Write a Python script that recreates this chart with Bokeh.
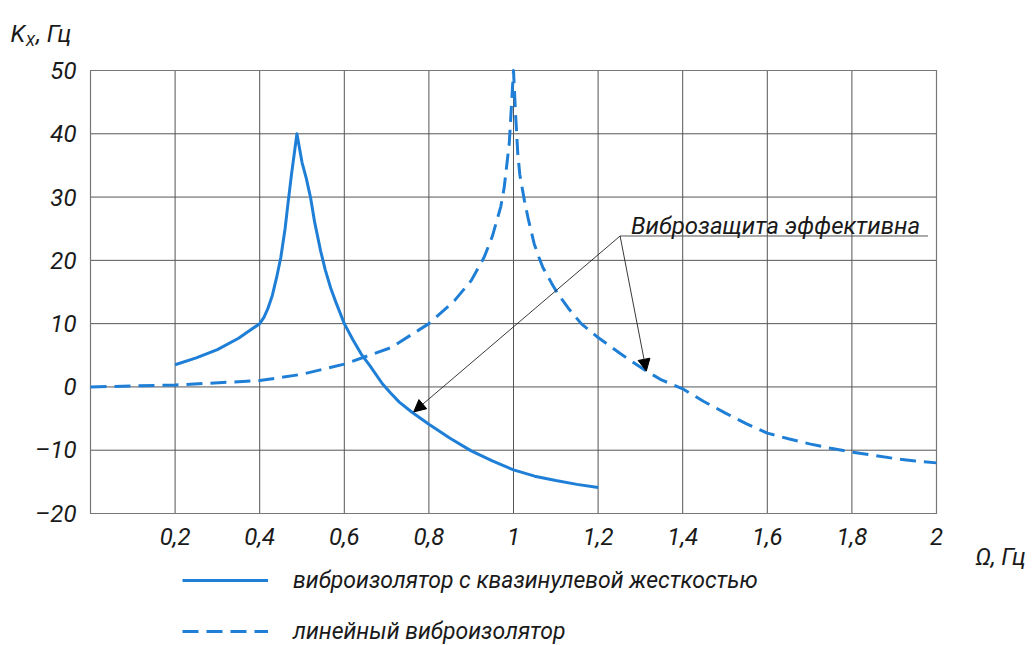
from bokeh.plotting import figure
from bokeh.models import Range1d, Label, Arrow, NormalHead, Legend, LegendItem, ColumnDataSource
from bokeh.embed import file_html
from bokeh.resources import INLINE

# ---- data ----
x_ticks = [0.2, 0.4, 0.6, 0.8, 1.0, 1.2, 1.4, 1.6, 1.8, 2.0]
x_tick_labels = ["0,2", "0,4", "0,6", "0,8", "1", "1,2", "1,4", "1,6", "1,8", "2"]
y_ticks = [-20, -10, 0, 10, 20, 30, 40, 50]
y_tick_labels = ["\u201320", "\u201310", "0", "10", "20", "30", "40", "50"]
x_min, x_max = 0.0, 2.0
y_min, y_max = -20.0, 50.0

quasi_zero_x = [0.2, 0.25, 0.3, 0.35, 0.4, 0.41, 0.42, 0.43, 0.44, 0.45, 0.46, 0.466, 0.475, 0.488,
                0.5, 0.51, 0.52, 0.53, 0.544, 0.555, 0.568, 0.58, 0.6, 0.62, 0.64, 0.66, 0.69,
                0.71, 0.73, 0.76, 0.8, 0.85, 0.9, 0.95, 1.0, 1.05, 1.1, 1.15, 1.2]
quasi_zero_y = [3.5, 4.6, 5.9, 7.7, 10.0, 11.0, 12.5, 14.5, 17.3, 20.5, 25.0, 28.5, 33.5, 40.0,
                35.5, 33.0, 30.0, 26.0, 21.5, 18.5, 15.6, 13.4, 10.0, 7.5, 5.2, 3.4, 0.5,
                -1.0, -2.4, -4.0, -5.9, -8.1, -10.1, -11.7, -13.1, -14.1, -14.8, -15.4, -15.9]

linear_x = [0.0, 0.2, 0.4, 0.5, 0.6, 0.71, 0.8, 0.86, 0.9, 0.93, 0.95, 0.97, 0.978, 0.99, 1.0,
            1.005, 1.01, 1.015, 1.026, 1.035, 1.049, 1.06, 1.07, 1.09, 1.105, 1.13, 1.16, 1.2,
            1.254, 1.314, 1.35, 1.4, 1.45, 1.5, 1.55, 1.6, 1.65, 1.7, 1.75, 1.8, 1.85, 1.9,
            1.95, 2.0]
linear_y = [0.0, 0.3, 1.0, 2.0, 3.6, 6.2, 10.0, 13.6, 16.8, 20.4, 23.8, 28.5, 31.5, 38.5, 50.0,
            43.0, 37.0, 33.5, 29.4, 26.5, 22.6, 20.5, 18.8, 16.4, 14.7, 12.4, 10.0, 7.8,
            5.2, 2.5, 1.1, -0.3, -2.3, -4.1, -5.8, -7.3, -8.2, -9.0, -9.7, -10.3, -10.8, -11.3,
            -11.7, -12.0]

legend_labels = ["виброизолятор с квазинулевой жесткостью", "линейный виброизолятор"]
annotation_text = "Виброзащита эффективна"
y_title_main, y_title_sub, y_title_unit = "K", "X", ", Гц"
x_title = "Ω, Гц"

# ---- layout (pixels) ----
W, H = 1035, 645
PL, PR, PT, PB = 90, 936, 70, 513          # plot box in canvas pixels
sx = (PR - PL) / (x_max - x_min)
sy = (PB - PT) / (y_max - y_min)

FONT = "Roboto"
BLUE = "#1f7fd6"
TXT = "#1a1a1a"
GRID = "#555555"

p = figure(width=W, height=H, output_backend="svg", toolbar_location=None,
           x_range=Range1d(x_min - PL / sx, x_max + (W - PR) / sx),
           y_range=Range1d(y_min - (H - PB) / sy, y_max + PT / sy),
           min_border=0, min_border_left=0, min_border_right=0,
           min_border_top=0, min_border_bottom=0)
p.axis.visible = False
p.grid.visible = False
p.outline_line_color = None
p.background_fill_color = "white"
p.border_fill_color = "white"

# grid and plot box, from the tick lists
p.segment(x0=x_ticks, y0=[y_min] * len(x_ticks), x1=x_ticks, y1=[y_max] * len(x_ticks),
          line_color=GRID, line_width=1)
p.segment(x0=[x_min] * len(y_ticks), y0=y_ticks, x1=[x_max] * len(y_ticks), y1=y_ticks,
          line_color=GRID, line_width=1)
p.quad(left=[x_min], right=[x_max], bottom=[y_min], top=[y_max],
       fill_color=None, line_color="#777777", line_width=1.2)

# tick labels
xt = ColumnDataSource(dict(x=x_ticks, y=[y_min] * len(x_ticks), t=x_tick_labels))
p.text(x="x", y="y", text="t", source=xt, y_offset=14, text_align="center",
       text_baseline="top", text_font={"value": FONT}, text_font_style="italic",
       text_font_size="24px", text_color=TXT)
yt = ColumnDataSource(dict(x=[x_min] * len(y_ticks), y=y_ticks, t=y_tick_labels))
p.text(x="x", y="y", text="t", source=yt, x_offset=-14, text_align="right",
       text_baseline="middle", text_font={"value": FONT}, text_font_style="italic",
       text_font_size="24px", text_color=TXT)

# curves
r1 = p.line(quasi_zero_x, quasi_zero_y, line_color=BLUE, line_width=3, line_join="round")
r2 = p.line(linear_x, linear_y, line_color=BLUE, line_width=3, line_dash="16 8",
            line_join="round")

# annotation: underline + leaders + arrows
vx, vy = 1.252, 23.85
p.line([vx, 1.98], [vy, vy], line_color="#555555", line_width=1)
head1 = NormalHead(size=12, fill_color="black", line_color="black")
head2 = NormalHead(size=12, fill_color="black", line_color="black")
p.add_layout(Arrow(end=head1, x_start=vx, y_start=vy, x_end=0.764, y_end=-3.95,
                   line_color="#222222", line_width=0.9))
p.add_layout(Arrow(end=head2, x_start=vx, y_start=vy, x_end=1.314, y_end=2.5,
                   line_color="#222222", line_width=0.9))

def lab(x, y, text, size="24px"):
    return Label(x=x, y=y, text=text, text_font=FONT, text_font_style="italic",
                 text_font_size=size, text_color=TXT, text_baseline="alphabetic")

p.add_layout(lab(1.278, 25.4, annotation_text))
p.add_layout(lab(-0.189, 55.75, y_title_main))
p.add_layout(lab(-0.153, 54.6, y_title_sub, "15px"))
p.add_layout(lab(-0.128, 55.75, y_title_unit))
p.add_layout(lab(2.092, -26.8, x_title))

legend = Legend(items=[LegendItem(label=legend_labels[0], renderers=[r1]),
                       LegendItem(label=legend_labels[1], renderers=[r2])],
                location=(182, 0), glyph_width=86, glyph_height=28, spacing=23,
                label_standoff=25, padding=0, margin=0, border_line_color=None,
                background_fill_alpha=0, label_text_font=FONT,
                label_text_font_style="italic", label_text_font_size="23px",
                label_text_color=TXT)
p.add_layout(legend, "center")

open("out.html", "w").write(file_html(p, INLINE))
